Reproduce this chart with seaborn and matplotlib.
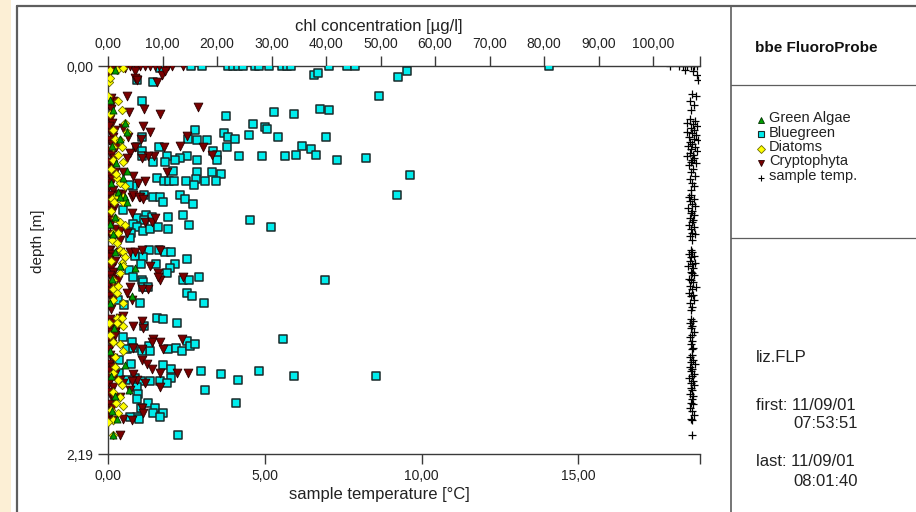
import numpy as np
import pandas as pd
import seaborn as sns
import matplotlib
matplotlib.use("Agg")
from matplotlib import pyplot as plt
from matplotlib.lines import Line2D
from matplotlib.patches import Rectangle

# (chl [ug/l], depth [m])
bluegreen = [
    (15.2, 0.00), (17.2, 0.00), (22.0, 0.00), (22.9, 0.00), (23.9, 0.00), (24.8, 0.00),
    (27.0, 0.00), (27.7, 0.00), (29.5, 0.00), (31.9, 0.00), (32.8, 0.00), (33.6, 0.00),
    (40.6, 0.00), (43.9, 0.00), (45.3, 0.00), (80.9, 0.00), (9.6, 0.01), (8.3, 0.09),
    (5.3, 0.08), (37.8, 0.05), (38.5, 0.04), (53.2, 0.06), (54.9, 0.03), (49.7, 0.17),
    (6.2, 0.20), (21.7, 0.28), (30.5, 0.26), (34.1, 0.27), (38.9, 0.24), (40.6, 0.25),
    (26.6, 0.33), (28.8, 0.345), (29.2, 0.355), (25.9, 0.39), (31.2, 0.40), (40.0, 0.40),
    (16.0, 0.36), (21.3, 0.38), (14.7, 0.41), (16.3, 0.42), (18.2, 0.42), (22.0, 0.40),
    (23.3, 0.41), (21.8, 0.46), (35.6, 0.45), (37.2, 0.47), (38.2, 0.50), (42.0, 0.53),
    (34.5, 0.50), (32.5, 0.51), (28.3, 0.51), (24.0, 0.51), (47.3, 0.52), (19.3, 0.48),
    (20.0, 0.50), (20.0, 0.53), (16.3, 0.53), (14.5, 0.51), (13.2, 0.52), (12.3, 0.53),
    (10.8, 0.51), (10.5, 0.54), (9.4, 0.46), (5.3, 0.46), (8.3, 0.54), (6.2, 0.40),
    (6.2, 0.48), (6.2, 0.51), (11.9, 0.59), (16.3, 0.60), (19.1, 0.60), (20.7, 0.61),
    (55.4, 0.615), (53.0, 0.73), (9.0, 0.63), (10.3, 0.65), (11.2, 0.65), (12.1, 0.65),
    (14.3, 0.65), (16.1, 0.64), (17.8, 0.65), (19.8, 0.65), (15.8, 0.67), (4.6, 0.68),
    (3.9, 0.67), (6.6, 0.73), (8.3, 0.74), (9.6, 0.74), (10.0, 0.77), (13.2, 0.73),
    (14.1, 0.75), (15.6, 0.78), (2.8, 0.81), (7.0, 0.84), (8.1, 0.85), (11.0, 0.85),
    (13.8, 0.84), (5.3, 0.86), (6.6, 0.87), (14.9, 0.90), (26.1, 0.87), (29.9, 0.91),
    (4.6, 0.89), (5.3, 0.91), (6.4, 0.93), (7.7, 0.92), (9.2, 0.91), (11.0, 0.92),
    (4.2, 0.94), (4.0, 0.97), (7.5, 1.04), (9.4, 1.04), (10.5, 1.05), (11.6, 1.05),
    (5.0, 1.07), (6.4, 1.08), (14.5, 1.09), (6.1, 1.12), (8.8, 1.12), (12.3, 1.12),
    (3.9, 1.15), (11.4, 1.14), (10.8, 1.17), (4.6, 1.19), (6.2, 1.21), (6.4, 1.22),
    (13.8, 1.21), (14.9, 1.21), (16.7, 1.19), (39.8, 1.21), (6.4, 1.25), (7.3, 1.25),
    (14.5, 1.28), (15.4, 1.30), (17.6, 1.34), (5.9, 1.34), (1.8, 1.32), (2.9, 1.35),
    (9.0, 1.42), (10.1, 1.43), (12.7, 1.45), (6.6, 1.47), (32.1, 1.54), (2.8, 1.53),
    (4.4, 1.56), (7.5, 1.58), (7.7, 1.61), (11.0, 1.60), (12.5, 1.59), (13.6, 1.61),
    (14.5, 1.55), (15.1, 1.58), (16.0, 1.57), (3.5, 1.60), (4.6, 1.59), (6.2, 1.61),
    (2.0, 1.66), (4.2, 1.68), (10.1, 1.69), (11.6, 1.71), (11.6, 1.76), (17.1, 1.72),
    (20.7, 1.74), (23.9, 1.77), (27.7, 1.72), (34.1, 1.75), (49.2, 1.75), (17.8, 1.83),
    (23.5, 1.90), (2.0, 1.73), (3.3, 1.77), (5.0, 1.76), (6.1, 1.78), (7.7, 1.78),
    (9.5, 1.78), (10.8, 1.79), (5.3, 1.81), (5.5, 1.85), (5.3, 1.88), (7.3, 1.90),
    (6.1, 1.93), (8.6, 1.93), (8.3, 1.96), (10.1, 1.96), (9.6, 1.98), (5.3, 1.98),
    (5.7, 1.99), (4.0, 1.98), (12.8, 2.08),
]

cryptophyta = [
    (0.0, 0.00), (0.9, 0.00), (1.8, 0.00), (3.1, 0.00), (4.0, 0.00), (5.1, 0.00),
    (5.9, 0.00), (6.8, 0.00), (7.7, 0.00), (8.6, 0.00), (9.4, 0.00), (10.5, 0.00),
    (11.0, 0.00), (11.7, 0.00), (13.8, 0.00), (9.9, 0.05), (10.5, 0.03), (5.0, 0.03),
    (3.1, 0.01), (5.0, 0.07), (9.0, 0.09), (5.3, 0.08), (3.5, 0.17), (0.9, 0.20),
    (3.9, 0.26), (6.6, 0.245), (9.5, 0.27), (16.5, 0.23), (6.4, 0.34), (7.7, 0.37),
    (6.1, 0.41), (14.5, 0.395), (13.2, 0.45), (10.3, 0.46), (17.4, 0.46), (19.1, 0.50),
    (8.4, 0.51), (7.3, 0.51), (6.2, 0.52), (2.8, 0.35), (3.7, 0.40), (5.0, 0.46),
    (4.0, 0.49), (3.5, 0.52), (10.8, 0.60), (6.8, 0.65), (5.5, 0.66), (4.6, 0.62),
    (2.8, 0.60), (2.6, 0.72), (4.4, 0.74), (5.9, 0.74), (1.8, 0.72), (4.6, 0.73),
    (5.7, 0.74), (6.4, 0.75), (0.4, 0.76), (4.4, 0.83), (6.8, 0.88), (8.1, 0.88),
    (8.6, 0.86), (2.2, 0.93), (3.5, 0.94), (0.9, 0.97), (2.2, 0.98), (0.4, 1.04),
    (2.2, 1.05), (4.0, 1.05), (5.0, 1.05), (6.2, 1.04), (9.5, 1.04), (7.7, 1.13),
    (9.2, 1.17), (9.5, 1.21), (9.2, 1.19), (13.8, 1.19), (0.9, 1.17), (1.8, 1.21),
    (7.3, 1.26), (6.2, 1.26), (4.0, 1.25), (3.5, 1.28), (4.4, 1.32), (2.2, 1.42),
    (2.8, 1.41), (6.2, 1.44), (6.4, 1.48), (4.6, 1.47), (1.8, 1.47), (1.3, 1.50),
    (8.3, 1.54), (8.1, 1.56), (9.5, 1.56), (10.1, 1.60), (13.6, 1.54), (6.2, 1.60),
    (4.6, 1.59), (6.2, 1.66), (7.2, 1.68), (8.1, 1.71), (9.5, 1.73), (12.7, 1.73),
    (14.7, 1.73), (4.6, 1.74), (5.3, 1.77), (6.8, 1.79), (9.5, 1.81), (4.4, 1.78),
    (2.2, 1.77), (2.8, 1.79), (4.0, 1.83), (2.2, 1.87), (6.2, 1.93), (6.4, 1.96),
    (4.4, 2.00), (2.8, 1.99), (2.2, 2.08),
    # the dense column sitting on the depth axis
    (0.3, 0.00), (0.6, 0.02), (0.2, 0.04), (0.5, 0.18), (0.2, 0.22), (0.6, 0.24),
    (0.3, 0.30), (0.8, 0.32), (0.2, 0.34), (1.2, 0.36), (0.5, 0.38), (0.9, 0.40),
    (0.1, 0.42), (0.7, 0.44), (1.4, 0.46), (0.4, 0.48), (0.6, 0.50), (1.1, 0.52),
    (0.2, 0.54), (0.9, 0.56), (0.5, 0.58), (1.3, 0.60), (0.3, 0.62), (0.8, 0.64),
    (0.6, 0.66), (0.2, 0.68), (1.0, 0.70), (0.3, 0.73), (0.9, 0.75), (0.2, 0.78),
    (1.1, 0.80), (0.5, 0.82), (0.2, 0.85), (0.8, 0.87), (0.4, 0.90), (1.2, 0.92),
    (0.3, 0.95), (0.7, 0.97), (0.2, 1.04), (0.8, 1.06), (0.4, 1.08), (1.2, 1.10),
    (0.2, 1.12), (0.6, 1.14), (1.0, 1.16), (0.3, 1.18), (0.7, 1.20), (0.2, 1.23),
    (1.1, 1.25), (0.5, 1.27), (0.3, 1.30), (0.9, 1.32), (0.2, 1.35), (0.6, 1.37),
    (0.3, 1.43), (0.9, 1.45), (0.2, 1.48), (0.6, 1.50), (1.2, 1.52), (0.3, 1.55),
    (0.8, 1.57), (0.2, 1.60), (0.4, 1.63), (1.0, 1.65), (0.2, 1.68), (0.7, 1.70),
    (0.3, 1.72), (1.3, 1.74), (0.5, 1.76), (0.2, 1.79), (0.9, 1.81), (0.3, 1.84),
    (0.6, 1.86), (1.1, 1.88), (0.2, 1.91), (0.8, 1.93), (0.4, 1.96), (0.2, 1.98),
    (1.0, 2.00),
]

diatoms = [
    (0.4, 0.02), (1.6, 0.02), (2.8, 0.01), (0.1, 0.09), (0.4, 0.07), (0.0, 0.17),
    (1.8, 0.20), (2.6, 0.25), (0.4, 0.27), (3.1, 0.32), (3.5, 0.37), (1.3, 0.41),
    (2.2, 0.42), (0.9, 0.46), (2.6, 0.46), (0.9, 0.53), (2.8, 0.54), (1.6, 0.63),
    (2.2, 0.66), (3.1, 0.68), (1.3, 0.74), (2.8, 0.74), (0.7, 0.75), (1.1, 0.77),
    (2.8, 0.77), (1.3, 0.86), (2.2, 0.88), (3.1, 0.90), (0.9, 0.94), (1.8, 0.94),
    (0.7, 0.98), (2.2, 1.04), (2.8, 1.05), (3.1, 1.08), (2.6, 1.11), (2.8, 1.13),
    (2.2, 1.17), (0.9, 1.21), (0.9, 1.26), (1.6, 1.28), (2.8, 1.34), (0.9, 1.32),
    (1.6, 1.42), (2.6, 1.42), (2.8, 1.47), (0.2, 1.45), (1.6, 1.45), (0.9, 1.56),
    (2.2, 1.57), (2.8, 1.61), (1.3, 1.70), (0.9, 1.73), (1.8, 1.77), (2.6, 1.80),
    (0.9, 1.84), (2.2, 1.87), (2.8, 1.92), (1.8, 1.96), (0.9, 2.00), (0.0, 2.01),
    (0.9, 2.08), (1.0, 0.36), (1.9, 0.50), (0.5, 0.58), (1.5, 0.61), (0.6, 0.82),
    (1.7, 1.00), (0.5, 1.10), (1.9, 1.24), (0.4, 1.52), (1.2, 1.64), (1.5, 1.90),
    (0.5, 1.94),
]

green_algae = [
    (2.2, 0.41), (3.1, 0.32), (3.5, 0.37), (3.5, 0.59), (2.8, 0.63), (1.8, 0.71),
    (3.1, 0.74), (0.4, 0.19), (0.9, 0.25), (2.2, 0.74), (3.5, 0.77), (1.3, 0.85),
    (0.4, 0.89), (1.3, 1.05), (5.0, 1.14), (2.2, 1.13), (4.4, 1.30), (0.4, 1.34),
    (3.1, 1.69), (3.9, 1.83), (1.3, 1.86), (1.6, 1.99), (0.9, 2.08), (0.4, 1.61),
    (0.8, 0.45), (1.5, 0.55), (0.6, 0.66), (1.0, 0.95), (0.7, 1.20), (1.1, 1.48),
    (0.6, 1.75), (0.8, 1.95), (1.2, 0.02),
]

# (sample temperature [C], depth [m])
sample_temp = [
    (17.92, 0.00), (18.20, 0.00), (18.35, 0.00), (18.48, 0.00), (18.60, 0.00), (18.70, 0.00),
    (18.80, 0.00), (18.40, 0.02), (18.65, 0.03), (18.78, 0.05), (18.82, 0.08),
    (18.62, 0.16), (18.75, 0.17), (18.55, 0.20), (18.70, 0.22), (18.60, 0.25),
    (18.55, 0.30), (18.72, 0.31), (18.48, 0.32), (18.66, 0.33), (18.80, 0.34), (18.58, 0.35),
    (18.70, 0.36), (18.45, 0.37), (18.62, 0.38), (18.76, 0.39), (18.52, 0.40), (18.68, 0.41),
    (18.82, 0.42), (18.57, 0.43), (18.64, 0.44), (18.50, 0.45), (18.73, 0.46), (18.60, 0.47),
    (18.78, 0.48), (18.55, 0.49), (18.66, 0.50), (18.48, 0.51), (18.70, 0.52), (18.62, 0.53),
    (18.58, 0.54), (18.75, 0.55), (18.53, 0.56), (18.67, 0.58), (18.60, 0.60), (18.72, 0.62),
    (18.56, 0.64), (18.64, 0.66), (18.69, 0.68), (18.58, 0.70),
    (18.60, 0.73), (18.52, 0.74), (18.68, 0.75), (18.57, 0.76), (18.64, 0.78), (18.72, 0.79),
    (18.50, 0.80), (18.62, 0.82), (18.58, 0.83), (18.70, 0.84), (18.55, 0.86), (18.66, 0.87),
    (18.61, 0.88), (18.54, 0.90), (18.68, 0.91), (18.59, 0.92), (18.63, 0.94), (18.71, 0.95),
    (18.56, 0.96), (18.62, 0.98),
    (18.58, 1.04), (18.64, 1.05), (18.52, 1.06), (18.68, 1.07), (18.60, 1.08), (18.55, 1.10),
    (18.72, 1.11), (18.62, 1.12), (18.50, 1.13), (18.66, 1.14), (18.58, 1.16), (18.63, 1.17),
    (18.70, 1.18), (18.54, 1.20), (18.60, 1.21), (18.67, 1.22), (18.57, 1.24), (18.74, 1.25),
    (18.61, 1.26), (18.53, 1.28), (18.65, 1.29), (18.59, 1.30), (18.68, 1.32), (18.56, 1.34),
    (18.62, 1.36), (18.60, 1.38),
    (18.60, 1.43), (18.66, 1.44), (18.55, 1.45), (18.63, 1.47), (18.58, 1.48), (18.70, 1.50),
    (18.61, 1.52), (18.56, 1.53), (18.64, 1.55), (18.59, 1.57), (18.67, 1.59), (18.62, 1.60),
    (18.62, 1.63), (18.57, 1.64), (18.66, 1.66), (18.60, 1.67), (18.72, 1.68), (18.55, 1.70),
    (18.64, 1.71), (18.59, 1.72), (18.68, 1.74), (18.61, 1.75), (18.53, 1.76), (18.66, 1.78),
    (18.60, 1.79), (18.70, 1.80), (18.58, 1.82), (18.63, 1.83), (18.56, 1.85), (18.67, 1.86),
    (18.61, 1.88), (18.59, 1.90), (18.65, 1.91), (18.57, 1.93), (18.62, 1.95), (18.68, 1.97),
    (18.60, 1.99), (18.64, 2.00), (18.63, 2.08),
]

chl_ticks = [0, 10, 20, 30, 40, 50, 60, 70, 80, 90, 100]
chl_labels = ["0,00", "10,00", "20,00", "30,00", "40,00", "50,00", "60,00", "70,00",
              "80,00", "90,00", "100,00"]
temp_ticks = [0, 5, 10, 15]
temp_labels = ["0,00", "5,00", "10,00", "15,00"]
depth_ticks = [0.0, 2.19]
depth_labels = ["0,00", "2,19"]
chl_max = 108.6
temp_max = 18.88

legend_labels = ["Green Algae", "Bluegreen", "Diatoms", "Cryptophyta", "sample temp."]
info_lines = ["liz.FLP", "first: 11/09/01", "07:53:51", "last: 11/09/01", "08:01:40"]


def frame(series, cols):
    return pd.DataFrame(series, columns=cols)


sns.set_style("white")
plt.rcParams["font.family"] = ["Liberation Sans", "DejaVu Sans"]
plt.rcParams["font.size"] = 10

W, H = 916, 512
fig = plt.figure(figsize=(W / 100, H / 100), dpi=100)
fig.patch.set_facecolor("white")


def fx(px):
    return px / W


def fy(py):
    return 1 - py / H


# beige strip and panel frame
fig.add_artist(Rectangle((0, 0), fx(11), 1, transform=fig.transFigure, color="#fcefd5", lw=0))
frame_col = "#5e5e5e"
fig.add_artist(Line2D([fx(16.5), fx(16.5)], [0, fy(5.5)], transform=fig.transFigure, color=frame_col, lw=1.6))
fig.add_artist(Line2D([fx(16.5), 1], [fy(5.5), fy(5.5)], transform=fig.transFigure, color=frame_col, lw=1.6))
fig.add_artist(Line2D([fx(731), fx(731)], [0, fy(5.5)], transform=fig.transFigure, color=frame_col, lw=1.2))
fig.add_artist(Line2D([fx(731), 1], [fy(85), fy(85)], transform=fig.transFigure, color=frame_col, lw=0.9))
fig.add_artist(Line2D([fx(731), 1], [fy(238), fy(238)], transform=fig.transFigure, color=frame_col, lw=0.9))

ax = fig.add_axes([fx(108), fy(454), fx(700) - fx(108), fy(66) - fy(454)])
ax.set_facecolor("none")
top = ax.twiny()

spine_col = "#3a3a3a"
for a in (ax, top):
    for s in a.spines.values():
        s.set_visible(False)
        s.set_color(spine_col)
        s.set_linewidth(1.0)
ax.spines["left"].set_visible(True)
ax.spines["bottom"].set_visible(True)
top.spines["top"].set_visible(True)

df_temp = frame(sample_temp, ["temp", "depth"])
sns.scatterplot(data=df_temp, x="temp", y="depth", ax=ax, marker="+", color="black",
                s=30, linewidth=0.9, legend=False, zorder=3)

df_blue = frame(bluegreen, ["chl", "depth"])
df_crypto = frame(cryptophyta, ["chl", "depth"])
df_diat = frame(diatoms, ["chl", "depth"])
df_green = frame(green_algae, ["chl", "depth"])

blue_style = dict(marker="s", color="#00eded", edgecolor="#1a2a2a", linewidth=1.1, s=34)
crypto_style = dict(marker="v", color="#7a0000", edgecolor="#2a0000", linewidth=0.6, s=40)
diat_style = dict(marker="D", color="#ffff00", edgecolor="#6a6a00", linewidth=0.6, s=18)
green_style = dict(marker="^", color="#00a000", edgecolor="#003000", linewidth=0.6, s=26)

sns.scatterplot(data=df_blue, x="chl", y="depth", ax=top, legend=False, zorder=3, **blue_style)
sns.scatterplot(data=df_crypto, x="chl", y="depth", ax=top, legend=False, zorder=4, **crypto_style)
sns.scatterplot(data=df_diat, x="chl", y="depth", ax=top, legend=False, zorder=5, **diat_style)
sns.scatterplot(data=df_green, x="chl", y="depth", ax=top, legend=False, zorder=6, **green_style)

ax.set_xlim(0, temp_max)
top.set_xlim(0, chl_max)
ax.set_ylim(2.19, 0)

ax.set_xticks(temp_ticks)
ax.set_xticklabels(temp_labels)
ax.set_xticks([temp_max], minor=True)
top.set_xticks(chl_ticks)
top.set_xticklabels(chl_labels)
top.set_xticks([chl_max], minor=True)
ax.set_yticks(depth_ticks)
ax.set_yticklabels(depth_labels)

for a in (ax, top):
    a.tick_params(which="both", direction="out", length=7.5, width=1.0, color=spine_col,
                  labelsize=10, labelcolor="#222222", pad=3)
ax.tick_params(axis="x", which="both", bottom=True, top=False, labelbottom=True)
ax.tick_params(axis="y", left=True, right=False, labelleft=True)
top.tick_params(axis="x", which="both", top=True, bottom=False, labeltop=True)
top.tick_params(axis="y", left=False, right=False, labelleft=False, labelright=False)

lab_size = 12
ax.set_xlabel("sample temperature [°C]", fontsize=lab_size, color="#222222")
ax.xaxis.set_label_coords((379 - 108) / 592, -(495 - 454) / 388)
top.set_xlabel("chl concentration [µg/l]", fontsize=lab_size, color="#222222")
top.xaxis.set_label_coords((379 - 108) / 592, 1 + (66 - 27) / 388)
ax.set_ylabel("depth [m]", fontsize=11, color="#222222")
ax.yaxis.set_label_coords((38 - 108) / 592, (454 - 241) / 388)
ax.xaxis.label.set_va("center")
top.xaxis.label.set_va("center")
ax.yaxis.label.set_va("center")

# right panel
fig.text(fx(755), fy(48), "bbe FluoroProbe", fontsize=11, fontweight="bold",
         va="center", ha="left", color="#111111")

key_styles = [
    dict(marker="^", ms=4.5, mfc="#00a000", mec="#003000", mew=0.6),
    dict(marker="s", ms=4.2, mfc="#00eded", mec="#1a2a2a", mew=0.8),
    dict(marker="D", ms=3.6, mfc="#ffff00", mec="#6a6a00", mew=0.6),
    dict(marker="v", ms=4.5, mfc="#7a0000", mec="#2a0000", mew=0.6),
    dict(marker="+", ms=4.5, color="black", mew=0.8),
]
key_rows = [118, 132.5, 147, 161.5, 176]
for row, label, style in zip(key_rows, legend_labels, key_styles):
    fig.add_artist(Line2D([fx(761)], [fy(row + 1.5)], transform=fig.transFigure, ls="none", **style))
    fig.text(fx(769), fy(row), label, fontsize=10.5, va="center", ha="left", color="#222222")

info_pos = [(756, 357), (756, 405), (793, 424), (756, 462), (793, 482)]
for (px, py), line in zip(info_pos, info_lines):
    fig.text(fx(px), fy(py), line, fontsize=lab_size, va="center", ha="left", color="#222222")

fig.savefig("out.png", dpi=100)
